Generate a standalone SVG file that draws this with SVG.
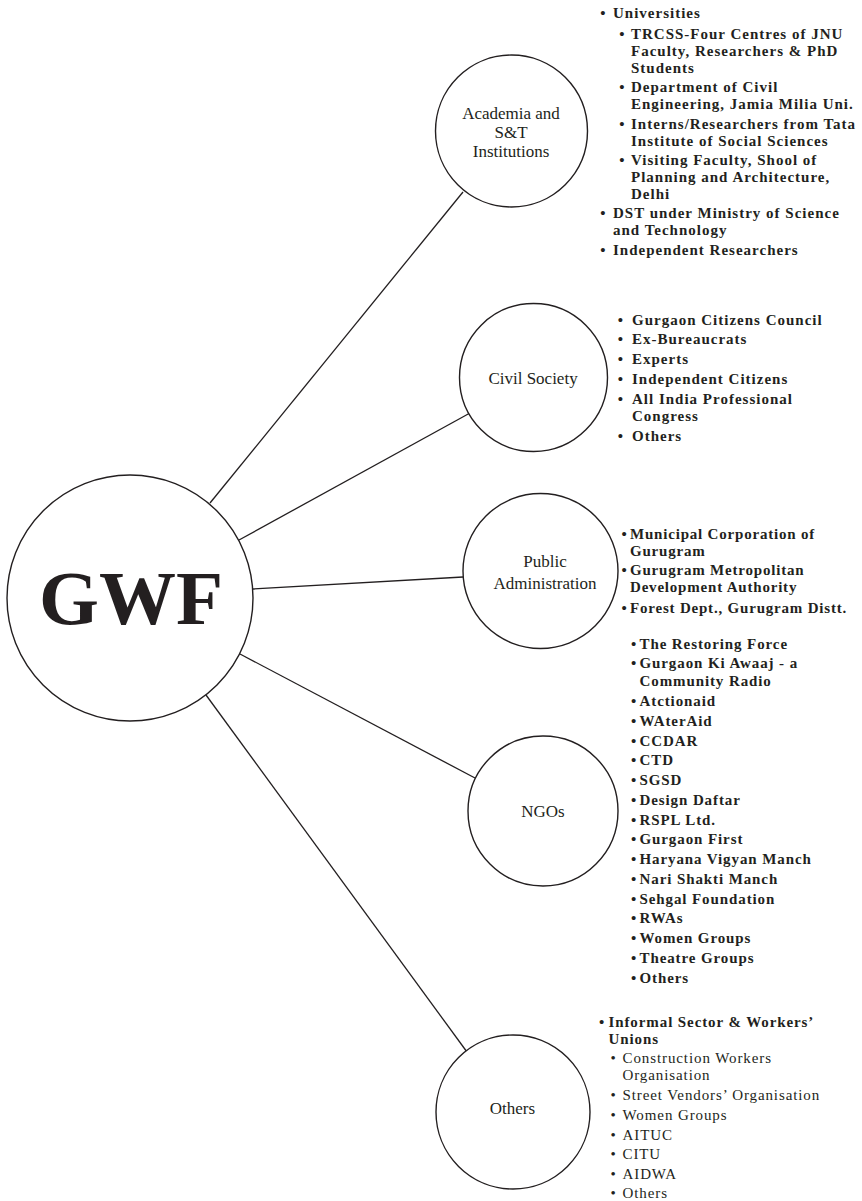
<svg xmlns="http://www.w3.org/2000/svg" width="862" height="1201" viewBox="0 0 862 1201">
<style>
.c{fill:#fff;stroke:#231f20;stroke-width:1.4}
.ln{stroke:#231f20;stroke-width:1.3;fill:none}
.lbl{font-family:"Liberation Serif","Times New Roman",serif;font-size:17px;fill:#231f20;text-anchor:middle}
.b{font-family:"Liberation Serif","Times New Roman",serif;font-weight:bold;fill:#231f20}
.r{font-family:"Liberation Serif","Times New Roman",serif;font-weight:normal;fill:#231f20}
.bu{text-anchor:middle}
</style>
<rect width="862" height="1201" fill="#fff"/>
<g id="connectors">
<line class="ln" x1="210" y1="503" x2="463" y2="192"/>
<line class="ln" x1="239" y1="540" x2="470" y2="413"/>
<line class="ln" x1="253" y1="589" x2="463" y2="577"/>
<line class="ln" x1="240" y1="654" x2="475" y2="778"/>
<line class="ln" x1="206" y1="695" x2="467" y2="1052"/>
</g>
<g id="gwf">
<circle class="c" cx="130" cy="598" r="123"/>
<text x="131" y="624" text-anchor="middle" font-family="'Liberation Serif','Times New Roman',serif" font-weight="bold" font-size="77" fill="#231f20">GWF</text>
</g>
<g id="academia">
<circle class="c" cx="511.5" cy="131" r="76"/>
<text class="lbl"><tspan x="511" y="119">Academia and</tspan><tspan x="511" y="138">S&amp;T</tspan><tspan x="511" y="157">Institutions</tspan></text>
<g font-size="15" letter-spacing="1">
<text class="b bu"><tspan x="603.5" y="18">•</tspan><tspan x="622.5" y="38.5">•</tspan><tspan x="622.5" y="92">•</tspan><tspan x="622.5" y="128.5">•</tspan><tspan x="622.5" y="165">•</tspan><tspan x="603.5" y="218">•</tspan><tspan x="603.5" y="255">•</tspan></text>
<text class="b"><tspan x="613" y="18">Universities</tspan><tspan x="631" y="38.5">TRCSS-Four Centres of JNU</tspan><tspan x="631" y="55.5">Faculty, Researchers &amp; PhD</tspan><tspan x="631" y="72.5">Students</tspan><tspan x="631" y="92">Department of Civil</tspan><tspan x="631" y="109">Engineering, Jamia Milia Uni.</tspan><tspan x="631" y="128.5">Interns/Researchers from Tata</tspan><tspan x="631" y="145.5">Institute of Social Sciences</tspan><tspan x="631" y="165">Visiting Faculty, Shool of</tspan><tspan x="631" y="182">Planning and Architecture,</tspan><tspan x="631" y="199">Delhi</tspan><tspan x="613" y="218">DST under Ministry of Science</tspan><tspan x="613" y="235">and Technology</tspan><tspan x="613" y="255">Independent Researchers</tspan></text>
</g>
</g>
<g id="civil-society">
<circle class="c" cx="533.5" cy="377.5" r="74"/>
<text class="lbl" x="533" y="384">Civil Society</text>
<g font-size="15" letter-spacing="1">
<text class="b bu"><tspan x="621" y="324.5">•</tspan><tspan x="621" y="344">•</tspan><tspan x="621" y="363.5">•</tspan><tspan x="621" y="383.5">•</tspan><tspan x="621" y="403.5">•</tspan><tspan x="621" y="441">•</tspan></text>
<text class="b"><tspan x="632" y="324.5">Gurgaon Citizens Council</tspan><tspan x="632" y="344">Ex-Bureaucrats</tspan><tspan x="632" y="363.5">Experts</tspan><tspan x="632" y="383.5">Independent Citizens</tspan><tspan x="632" y="403.5">All India Professional</tspan><tspan x="632" y="420.5">Congress</tspan><tspan x="632" y="441">Others</tspan></text>
</g>
</g>
<g id="public-administration">
<circle class="c" cx="540.5" cy="571" r="77.5"/>
<text class="lbl"><tspan x="545" y="567">Public</tspan><tspan x="545" y="589">Administration</tspan></text>
<g font-size="15" letter-spacing="0.8">
<text class="b bu"><tspan x="624.5" y="539">•</tspan><tspan x="624.5" y="574.5">•</tspan><tspan x="624.5" y="613">•</tspan></text>
<text class="b"><tspan x="630" y="539">Municipal Corporation of</tspan><tspan x="630" y="556">Gurugram</tspan><tspan x="630" y="574.5">Gurugram Metropolitan</tspan><tspan x="630" y="591.5">Development Authority</tspan><tspan x="630" y="613">Forest Dept., Gurugram Distt.</tspan></text>
</g>
</g>
<g id="ngos">
<circle class="c" cx="543" cy="811" r="75"/>
<text class="lbl" x="543" y="817">NGOs</text>
<g font-size="15" letter-spacing="0.9">
<text class="b bu"><tspan x="634" y="649">•</tspan><tspan x="634" y="668">•</tspan><tspan x="634" y="706">•</tspan><tspan x="634" y="725.7">•</tspan><tspan x="634" y="745.5">•</tspan><tspan x="634" y="765.2">•</tspan><tspan x="634" y="785">•</tspan><tspan x="634" y="804.7">•</tspan><tspan x="634" y="824.5">•</tspan><tspan x="634" y="844.2">•</tspan><tspan x="634" y="864">•</tspan><tspan x="634" y="883.7">•</tspan><tspan x="634" y="903.5">•</tspan><tspan x="634" y="923.2">•</tspan><tspan x="634" y="943">•</tspan><tspan x="634" y="962.7">•</tspan><tspan x="634" y="982.5">•</tspan></text>
<text class="b"><tspan x="639.5" y="649">The Restoring Force</tspan><tspan x="639.5" y="668">Gurgaon Ki Awaaj - a</tspan><tspan x="639.5" y="685.5">Community Radio</tspan><tspan x="639.5" y="706">Atctionaid</tspan><tspan x="639.5" y="725.7">WAterAid</tspan><tspan x="639.5" y="745.5">CCDAR</tspan><tspan x="639.5" y="765.2">CTD</tspan><tspan x="639.5" y="785">SGSD</tspan><tspan x="639.5" y="804.7">Design Daftar</tspan><tspan x="639.5" y="824.5">RSPL Ltd.</tspan><tspan x="639.5" y="844.2">Gurgaon First</tspan><tspan x="639.5" y="864">Haryana Vigyan Manch</tspan><tspan x="639.5" y="883.7">Nari Shakti Manch</tspan><tspan x="639.5" y="903.5">Sehgal Foundation</tspan><tspan x="639.5" y="923.2">RWAs</tspan><tspan x="639.5" y="943">Women Groups</tspan><tspan x="639.5" y="962.7">Theatre Groups</tspan><tspan x="639.5" y="982.5">Others</tspan></text>
</g>
</g>
<g id="others">
<circle class="c" cx="513" cy="1112" r="77"/>
<text class="lbl" x="512.5" y="1114">Others</text>
<g font-size="15" letter-spacing="0.9">
<text class="b bu"><tspan x="602" y="1026.5">•</tspan></text>
<text class="b"><tspan x="608.5" y="1026.5">Informal Sector &amp; Workers’</tspan><tspan x="608.5" y="1043.5">Unions</tspan></text>
</g>
<g font-size="15" letter-spacing="0.9">
<text class="r bu"><tspan x="613.5" y="1063">•</tspan><tspan x="613.5" y="1100">•</tspan><tspan x="613.5" y="1120">•</tspan><tspan x="613.5" y="1139.5">•</tspan><tspan x="613.5" y="1159">•</tspan><tspan x="613.5" y="1178.5">•</tspan><tspan x="613.5" y="1197.5">•</tspan></text>
<text class="r"><tspan x="622.5" y="1063">Construction Workers</tspan><tspan x="622.5" y="1080">Organisation</tspan><tspan x="622.5" y="1100">Street Vendors’ Organisation</tspan><tspan x="622.5" y="1120">Women Groups</tspan><tspan x="622.5" y="1139.5">AITUC</tspan><tspan x="622.5" y="1159">CITU</tspan><tspan x="622.5" y="1178.5">AIDWA</tspan><tspan x="622.5" y="1197.5">Others</tspan></text>
</g>
</g>
</svg>
